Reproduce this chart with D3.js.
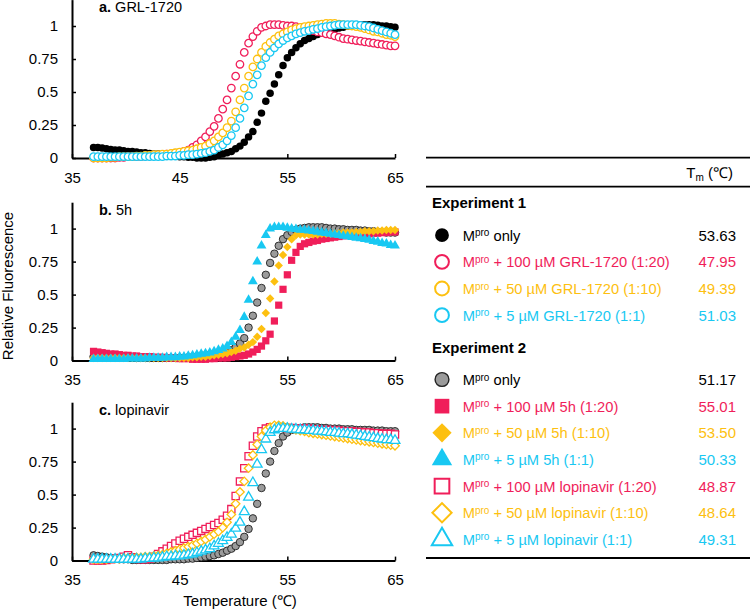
<!DOCTYPE html>
<html>
<head>
<meta charset="utf-8">
<script src="https://cdn.jsdelivr.net/npm/d3@7"></script>
<style>
body { margin: 0; background: #fff; }
svg { display: block; }
</style>
</head>
<body>
<svg id="chart" width="750" height="611"></svg>
<script>
// Temperature grid of the melt curves (degC)
var temps = [
    37, 37.4, 37.8, 38.2, 38.6, 39, 39.4, 39.8, 40.2, 40.6,
    41, 41.4, 41.8, 42.2, 42.6, 43, 43.4, 43.8, 44.2, 44.6,
    45, 45.4, 45.8, 46.2, 46.6, 47, 47.4, 47.8, 48.2, 48.6,
    49, 49.4, 49.8, 50.2, 50.6, 51, 51.4, 51.8, 52.2, 52.6,
    53, 53.4, 53.8, 54.2, 54.6, 55, 55.4, 55.8, 56.2, 56.6,
    57, 57.4, 57.8, 58.2, 58.6, 59, 59.4, 59.8, 60.2, 60.6,
    61, 61.4, 61.8, 62.2, 62.6, 63, 63.4, 63.8, 64.2, 64.6,
    65];

// Panel a: GRL-1720
var grlMpro = [
    0.08, 0.08, 0.075, 0.07, 0.065, 0.06, 0.06, 0.055, 0.05, 0.05,
    0.045, 0.04, 0.04, 0.035, 0.03, 0.03, 0.025, 0.02, 0.02, 0.015,
    0.01, 0.01, 0.005, 0.005, 0, 0, 0, 0.005, 0.01, 0.02,
    0.03, 0.04, 0.05, 0.07, 0.09, 0.12, 0.16, 0.2, 0.27, 0.34,
    0.43, 0.49, 0.56, 0.63, 0.7, 0.76, 0.8, 0.835, 0.865, 0.89,
    0.905, 0.92, 0.935, 0.95, 0.96, 0.97, 0.975, 0.985, 0.99, 1.0,
    1.0, 1.01, 1.01, 1.01, 1.01, 1.01, 1.005, 1.0, 1.0, 0.995,
    0.99];
var grl100 = [
    0, 0, 0, 0, 0, 0, 0.005, 0.005, 0.01, 0.01,
    0.01, 0.01, 0.015, 0.015, 0.02, 0.02, 0.025, 0.03, 0.03, 0.035,
    0.04, 0.05, 0.06, 0.08, 0.1, 0.13, 0.16, 0.2, 0.24, 0.3,
    0.37, 0.44, 0.53, 0.62, 0.71, 0.8, 0.87, 0.92, 0.96, 0.99,
    1.0, 1.01, 1.01, 1.01, 1.005, 1.0, 1.0, 0.995, 0.99, 0.98,
    0.975, 0.965, 0.955, 0.95, 0.94, 0.935, 0.925, 0.915, 0.905, 0.9,
    0.895, 0.89, 0.885, 0.88, 0.875, 0.87, 0.865, 0.86, 0.855, 0.85,
    0.85];
var grl50 = [
    0, 0, 0, 0, 0.005, 0.005, 0.01, 0.01, 0.01, 0.01,
    0.015, 0.015, 0.02, 0.02, 0.025, 0.025, 0.03, 0.03, 0.035, 0.04,
    0.045, 0.05, 0.055, 0.06, 0.07, 0.08, 0.09, 0.11, 0.13, 0.16,
    0.19, 0.23, 0.28, 0.35, 0.44, 0.53, 0.62, 0.69, 0.75, 0.8,
    0.845, 0.875, 0.9, 0.925, 0.94, 0.955, 0.97, 0.98, 0.99, 0.995,
    1.0, 1.005, 1.01, 1.015, 1.02, 1.02, 1.02, 1.015, 1.01, 1.005,
    1.0, 0.995, 0.99, 0.98, 0.97, 0.96, 0.955, 0.945, 0.935, 0.93,
    0.92];
var grl5 = [
    0.01, 0.01, 0.01, 0.01, 0.01, 0.01, 0.01, 0.01, 0.01, 0.01,
    0.01, 0.01, 0.01, 0.01, 0.01, 0.01, 0.01, 0.015, 0.015, 0.015,
    0.02, 0.02, 0.025, 0.025, 0.03, 0.035, 0.04, 0.05, 0.06, 0.08,
    0.1, 0.13, 0.17, 0.23, 0.3, 0.38, 0.47, 0.56, 0.63, 0.7,
    0.76, 0.8, 0.835, 0.865, 0.89, 0.91, 0.925, 0.94, 0.95, 0.96,
    0.965, 0.975, 0.98, 0.99, 0.995, 1.0, 1.005, 1.01, 1.01, 1.01,
    1.01, 1.01, 1.005, 1.0, 0.995, 0.985, 0.975, 0.965, 0.955, 0.945,
    0.935];

// Panel b: 5h
var h5Mpro = [
    0.03, 0.03, 0.03, 0.03, 0.03, 0.03, 0.025, 0.025, 0.025, 0.025,
    0.02, 0.02, 0.02, 0.02, 0.02, 0.02, 0.02, 0.02, 0.02, 0.02,
    0.02, 0.02, 0.025, 0.025, 0.03, 0.035, 0.04, 0.045, 0.05, 0.055,
    0.06, 0.07, 0.08, 0.1, 0.13, 0.17, 0.25, 0.34, 0.44, 0.55,
    0.65, 0.74, 0.81, 0.87, 0.92, 0.95, 0.975, 0.99, 1.0, 1.005,
    1.01, 1.01, 1.01, 1.01, 1.005, 1.0, 1.0, 0.995, 0.995, 0.99,
    0.99, 0.99, 0.985, 0.985, 0.98, 0.98, 0.975, 0.975, 0.97, 0.97,
    0.97];
var h5x100 = [
    0.07, 0.065, 0.06, 0.055, 0.05, 0.05, 0.045, 0.04, 0.04, 0.035,
    0.035, 0.03, 0.03, 0.03, 0.025, 0.025, 0.025, 0.02, 0.02, 0.02,
    0.015, 0.015, 0.015, 0.01, 0.01, 0.01, 0.01, 0.015, 0.015, 0.02,
    0.02, 0.02, 0.025, 0.03, 0.035, 0.04, 0.05, 0.065, 0.085, 0.11,
    0.15, 0.2, 0.3, 0.42, 0.54, 0.65, 0.76, 0.82, 0.865, 0.885,
    0.895, 0.905, 0.91, 0.92, 0.925, 0.93, 0.935, 0.94, 0.945, 0.95,
    0.95, 0.955, 0.955, 0.96, 0.96, 0.965, 0.965, 0.97, 0.97, 0.975,
    0.975];
var h5x50 = [
    0.02, 0.02, 0.02, 0.02, 0.02, 0.02, 0.02, 0.02, 0.02, 0.02,
    0.02, 0.02, 0.02, 0.02, 0.02, 0.02, 0.02, 0.02, 0.02, 0.02,
    0.02, 0.02, 0.02, 0.025, 0.025, 0.03, 0.03, 0.035, 0.04, 0.045,
    0.05, 0.055, 0.065, 0.075, 0.09, 0.1, 0.12, 0.14, 0.18, 0.24,
    0.36, 0.47, 0.6, 0.72, 0.8, 0.86, 0.92, 0.95, 0.955, 0.955,
    0.955, 0.955, 0.955, 0.96, 0.96, 0.96, 0.965, 0.965, 0.97, 0.97,
    0.97, 0.975, 0.975, 0.98, 0.98, 0.98, 0.985, 0.985, 0.99, 0.99,
    0.99];
var h5x5 = [
    0.01, 0.01, 0.01, 0.01, 0.01, 0.01, 0.01, 0.01, 0.015, 0.015,
    0.015, 0.015, 0.015, 0.02, 0.02, 0.02, 0.02, 0.025, 0.025, 0.025,
    0.03, 0.03, 0.035, 0.04, 0.045, 0.05, 0.055, 0.06, 0.07, 0.08,
    0.09, 0.11, 0.14, 0.18, 0.23, 0.33, 0.46, 0.6, 0.75, 0.87,
    0.95, 1.0, 1.01, 1.01, 1.01, 1.005, 1.0, 0.995, 0.99, 0.99,
    0.985, 0.98, 0.975, 0.97, 0.965, 0.96, 0.955, 0.95, 0.945, 0.94,
    0.935, 0.93, 0.925, 0.92, 0.915, 0.905, 0.9, 0.89, 0.885, 0.875,
    0.87];

// Panel c: lopinavir
var lpvMpro = [
    0.04, 0.035, 0.03, 0.025, 0.02, 0.015, 0.01, 0.01, 0.01, 0.005,
    0.005, 0.005, 0.005, 0.005, 0.005, 0.005, 0.005, 0.005, 0.01, 0.01,
    0.01, 0.01, 0.015, 0.015, 0.02, 0.025, 0.03, 0.035, 0.04, 0.05,
    0.06, 0.075, 0.09, 0.11, 0.14, 0.18, 0.24, 0.32, 0.43, 0.55,
    0.66, 0.75, 0.83, 0.89, 0.94, 0.97, 0.99, 1.0, 1.005, 1.01,
    1.01, 1.01, 1.01, 1.005, 1.005, 1.0, 1.0, 1.0, 0.995, 0.995,
    0.995, 0.99, 0.99, 0.99, 0.99, 0.985, 0.985, 0.985, 0.98, 0.98,
    0.98];
var lpv100 = [
    0, 0, 0, 0.005, 0.01, 0.015, 0.02, 0.03, 0.04, 0.025,
    0.015, 0.01, 0.01, 0.015, 0.03, 0.05, 0.07, 0.09, 0.11, 0.13,
    0.15, 0.165, 0.18, 0.195, 0.21, 0.225, 0.24, 0.255, 0.27, 0.285,
    0.31, 0.34, 0.39, 0.49, 0.6, 0.7, 0.79, 0.87, 0.94, 0.98,
    1.0, 1.01, 1.01, 1.01, 1.01, 1.005, 1.005, 1.0, 1.0, 1.0,
    1.0, 0.995, 0.995, 0.99, 0.99, 0.99, 0.985, 0.985, 0.98, 0.98,
    0.98, 0.975, 0.975, 0.97, 0.97, 0.965, 0.965, 0.96, 0.96, 0.96,
    0.955];
var lpv50 = [
    0.01, 0.01, 0.01, 0.01, 0.015, 0.015, 0.015, 0.02, 0.02, 0.02,
    0.025, 0.025, 0.03, 0.03, 0.035, 0.04, 0.045, 0.055, 0.065, 0.075,
    0.085, 0.095, 0.105, 0.115, 0.13, 0.145, 0.16, 0.18, 0.2, 0.22,
    0.25, 0.29, 0.35, 0.43, 0.52, 0.6, 0.7, 0.8, 0.88, 0.94,
    0.985, 1.01, 1.025, 1.025, 1.02, 1.01, 1.0, 0.99, 0.985, 0.98,
    0.97, 0.965, 0.96, 0.955, 0.95, 0.945, 0.94, 0.935, 0.93, 0.925,
    0.92, 0.915, 0.91, 0.905, 0.9, 0.895, 0.89, 0.885, 0.88, 0.875,
    0.87];
var lpv5 = [
    0.01, 0.01, 0.01, 0.01, 0.01, 0.01, 0.01, 0.01, 0.01, 0.01,
    0.01, 0.01, 0.015, 0.015, 0.02, 0.02, 0.025, 0.03, 0.03, 0.035,
    0.035, 0.04, 0.045, 0.05, 0.06, 0.07, 0.08, 0.09, 0.11, 0.13,
    0.15, 0.175, 0.2, 0.245, 0.29, 0.37, 0.48, 0.59, 0.73, 0.84,
    0.92, 0.97, 0.99, 1.0, 1.0, 1.0, 0.995, 0.995, 0.99, 0.99,
    0.985, 0.985, 0.98, 0.98, 0.975, 0.97, 0.97, 0.965, 0.96, 0.96,
    0.955, 0.95, 0.945, 0.94, 0.935, 0.93, 0.925, 0.92, 0.915, 0.915,
    0.91];

// Axis ticks
var xTicks = [35, 45, 55, 65];
var yTicks = [0, 0.25, 0.5, 0.75, 1];
var yTickLabels = ["0", "0.25", "0.5", "0.75", "1"];

// Table text
var exp1Labels = ["only", "+ 100 \u00b5M GRL-1720 (1:20)",
    "+ 50 \u00b5M GRL-1720 (1:10)", "+ 5 \u00b5M GRL-1720 (1:1)"];
var exp1Tm = ["53.63", "47.95", "49.39", "51.03"];
var exp2Labels = ["only", "+ 100 \u00b5M 5h (1:20)", "+ 50 \u00b5M 5h (1:10)",
    "+ 5 \u00b5M 5h (1:1)", "+ 100 \u00b5M lopinavir (1:20)",
    "+ 50 \u00b5M lopinavir (1:10)", "+ 5 \u00b5M lopinavir (1:1)"];
var exp2Tm = ["51.17", "55.01", "53.50", "50.33", "48.87", "48.64", "49.31"];

var FONT = "'Liberation Sans', Arial, Helvetica, sans-serif";
var BLACK = "#000000", GRAY = "#9b9b9b", PINK = "#f01e5a",
    YELLOW = "#fdc010", CYAN = "#18c8f2";

var panels = [
    {letter: "a.", name: " GRL-1720", bottom: 158, series: [
        {values: grlMpro, shape: "circle", color: BLACK, text: BLACK},
        {values: grl100, shape: "circle", color: PINK, open: true},
        {values: grl50, shape: "circle", color: YELLOW, open: true},
        {values: grl5, shape: "circle", color: CYAN, open: true}]},
    {letter: "b.", name: " 5h", bottom: 360.6, series: [
        {values: h5Mpro, shape: "circle", color: GRAY, edge: "#222",
            text: BLACK},
        {values: h5x100, shape: "square", color: PINK},
        {values: h5x50, shape: "diamond", color: YELLOW},
        {values: h5x5, shape: "triangle", color: CYAN}]},
    {letter: "c.", name: " lopinavir", bottom: 560.6, series: [
        {values: lpvMpro, shape: "circle", color: GRAY, edge: "#222",
            text: BLACK},
        {values: lpv100, shape: "square", color: PINK, open: true},
        {values: lpv50, shape: "diamond", color: YELLOW, open: true},
        {values: lpv5, shape: "triangle", color: CYAN, open: true}]}
];

var svg = d3.select("#chart").attr("font-family", FONT);
svg.append("rect").attr("width", 750).attr("height", 611)
    .attr("fill", "#fff");

var x = d3.scaleLinear().domain([35, 65]).range([72, 395]);
var unit = 132;

var plotSize = {circle: 44, square: 52, diamond: 36, triangle: 42};
var legendSize = {circle: 150, square: 215, diamond: 185, triangle: 180};

function markerPath(shape, size) {
    var type = {circle: d3.symbolCircle, square: d3.symbolSquare,
        diamond: d3.symbolSquare, triangle: d3.symbolTriangle}[shape];
    return d3.symbol().type(type).size(size)();
}

function paint(sel, s, sw) {
    sel.attr("fill", s.open ? "#fff" : s.color)
        .attr("stroke", s.open ? s.color : (s.edge || "none"))
        .attr("stroke-width", s.open ? sw : sw * 0.7);
}

function styleAxis(g) {
    g.attr("font-family", FONT).attr("font-size", 15);
    g.select(".domain").attr("stroke", "#000").attr("stroke-width", 2);
    g.selectAll(".tick line").attr("stroke", "#000")
        .attr("stroke-width", 1.5);
    g.selectAll(".tick text").attr("fill", "#000");
}

//Draw the three melt-curve panels
panels.forEach(function(p) {
    var y = d3.scaleLinear().domain([0, 1.2])
        .range([p.bottom, p.bottom - 1.2 * unit]);
    var g = svg.append("g");

    g.append("g")
        .attr("transform", "translate(0," + p.bottom + ")")
        .call(d3.axisBottom(x).tickValues(xTicks).tickSize(-4)
            .tickSizeOuter(0).tickPadding(14))
        .call(styleAxis);

    g.append("g")
        .attr("transform", "translate(72,0)")
        .call(d3.axisLeft(y).tickValues(yTicks)
            .tickFormat(function(d, i) { return yTickLabels[i]; })
            .tickSize(-4).tickSizeOuter(0).tickPadding(14))
        .call(styleAxis);

    var title = g.append("text")
        .attr("x", 99)
        .attr("y", y(1) - 14)
        .attr("font-size", 14.5);
    title.append("tspan").attr("font-weight", "bold").text(p.letter);
    title.append("tspan").text(p.name);

    p.series.forEach(function(s) {
        g.append("g").selectAll("path")
            .data(s.values)
            .join("path")
            .attr("d", markerPath(s.shape, plotSize[s.shape]))
            .attr("transform", function(d, i) {
                return "translate(" + x(temps[i]) + "," + y(d) + ")" +
                    (s.shape === "diamond" ? " rotate(45)" : "");
            })
            .call(paint, s, 1.3);
    });
});

//Axis titles
svg.append("text")
    .attr("transform", "translate(13,286) rotate(-90)")
    .attr("text-anchor", "middle")
    .attr("font-size", 15)
    .text("Relative Fluorescence");

svg.append("text")
    .attr("x", 240).attr("y", 606)
    .attr("text-anchor", "middle")
    .attr("font-size", 15)
    .text("Temperature (\u2103)");

//Table on the right
[157.7, 186.7, 558].forEach(function(yy) {
    svg.append("line")
        .attr("x1", 426).attr("x2", 750)
        .attr("y1", yy).attr("y2", yy)
        .attr("stroke", "#000").attr("stroke-width", 1.8);
});

var tmHead = svg.append("text")
    .attr("x", 733).attr("y", 178)
    .attr("text-anchor", "end")
    .attr("font-size", 15);
tmHead.append("tspan").text("T");
tmHead.append("tspan").attr("font-size", 10).attr("dy", 3).text("m");
tmHead.append("tspan").attr("dy", -3).text(" (\u2103)");

var groups = [
    {head: "Experiment 1", headY: 208, rowY: 240.7,
        series: panels[0].series, labels: exp1Labels, tm: exp1Tm},
    {head: "Experiment 2", headY: 353, rowY: 385,
        series: panels[1].series.concat(panels[2].series.slice(1)),
        labels: exp2Labels, tm: exp2Tm}
];

groups.forEach(function(grp) {
    svg.append("text")
        .attr("x", 432).attr("y", grp.headY)
        .attr("font-size", 15).attr("font-weight", "bold")
        .text(grp.head);

    grp.series.forEach(function(s, i) {
        var yy = grp.rowY + i * 26.65;
        var col = s.text || s.color;

        svg.append("path")
            .attr("d", markerPath(s.shape, legendSize[s.shape]))
            .attr("transform", "translate(442," + (yy - 5.5) + ")" +
                (s.shape === "diamond" ? " rotate(45)" : ""))
            .call(paint, s, 2);

        var t = svg.append("text")
            .attr("x", 462.7).attr("y", yy)
            .attr("font-size", 14.7)
            .attr("fill", col);
        t.append("tspan").text("M");
        t.append("tspan").attr("font-size", 10).attr("dy", -4.5)
            .text("pro");
        t.append("tspan").attr("dy", 4.5).text(" " + grp.labels[i]);

        svg.append("text")
            .attr("x", 736).attr("y", yy)
            .attr("text-anchor", "end")
            .attr("font-size", 15)
            .attr("fill", col)
            .text(grp.tm[i]);
    });
});
</script>
</body>
</html>
